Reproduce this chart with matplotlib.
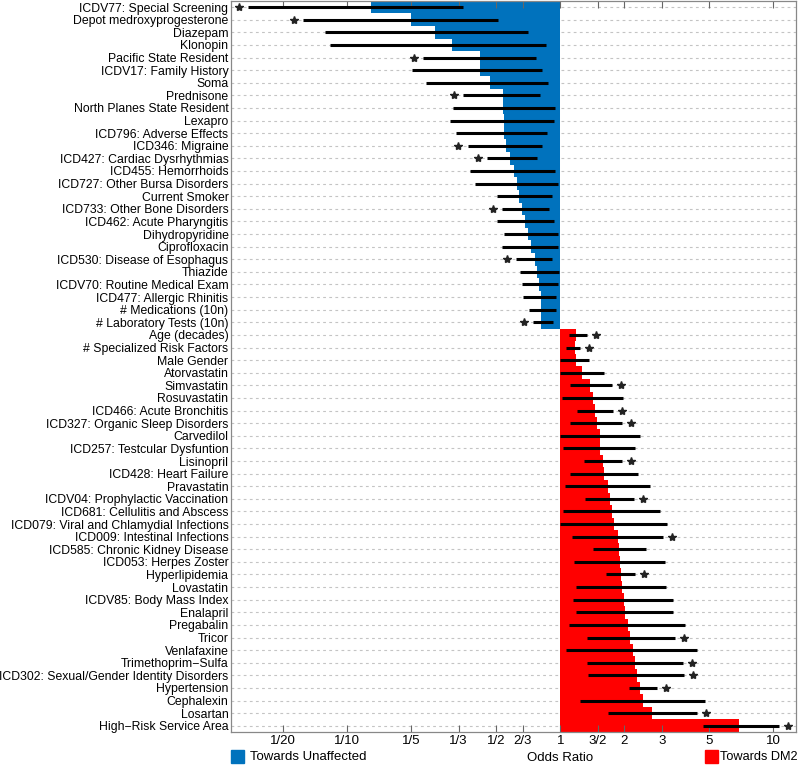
import numpy as np
import matplotlib
matplotlib.use('Agg')
import matplotlib.pyplot as plt
from matplotlib.transforms import offset_copy
from matplotlib.patches import Rectangle

plt.rcParams['font.family'] = ['Liberation Sans', 'DejaVu Sans']

# factores, razon de momios, intervalo de confianza y significancia
labels = [
    'ICDV77: Special Screening', 'Depot medroxyprogesterone', 'Diazepam', 'Klonopin',
    'Pacific State Resident', 'ICDV17: Family History', 'Soma', 'Prednisone',
    'North Planes State Resident', 'Lexapro', 'ICD796: Adverse Effects', 'ICD346: Migraine',
    'ICD427: Cardiac Dysrhythmias', 'ICD455: Hemorrhoids', 'ICD727: Other Bursa Disorders',
    'Current Smoker', 'ICD733: Other Bone Disorders', 'ICD462: Acute Pharyngitis',
    'Dihydropyridine', 'Ciprofloxacin', 'ICD530: Disease of Esophagus', 'Thiazide',
    'ICDV70: Routine Medical Exam', 'ICD477: Allergic Rhinitis', '# Medications (10n)',
    '# Laboratory Tests (10n)',
    'Age (decades)', '# Specialized Risk Factors', 'Male Gender', 'Atorvastatin',
    'Simvastatin', 'Rosuvastatin', 'ICD466: Acute Bronchitis', 'ICD327: Organic Sleep Disorders',
    'Carvedilol', 'ICD257: Testcular Dysfuntion', 'Lisinopril', 'ICD428: Heart Failure',
    'Pravastatin', 'ICDV04: Prophylactic Vaccination', 'ICD681: Cellulitis and Abscess',
    'ICD079: Viral and Chlamydial Infections', 'ICD009: Intestinal Infections',
    'ICD585: Chronic Kidney Disease', 'ICD053: Herpes Zoster', 'Hyperlipidemia', 'Lovastatin',
    'ICDV85: Body Mass Index', 'Enalapril', 'Pregabalin', 'Tricor', 'Venlafaxine',
    'Trimethoprim\u2212Sulfa', 'ICD302: Sexual/Gender Identity Disorders', 'Hypertension',
    'Cephalexin', 'Losartan', 'High\u2212Risk Service Area']

odds = [0.129, 0.199, 0.259, 0.310, 0.418, 0.420, 0.469, 0.538, 0.540, 0.542, 0.546, 0.558,
        0.582, 0.604, 0.626, 0.637, 0.661, 0.685, 0.707, 0.73, 0.763, 0.78, 0.797, 0.814,
        0.814, 0.814,
        1.19, 1.17, 1.19, 1.264, 1.383, 1.418, 1.449, 1.486, 1.53, 1.54, 1.587, 1.61, 1.668,
        1.717, 1.748, 1.798, 1.858, 1.892, 1.913, 1.93, 1.948, 1.983, 2.02, 2.07, 2.13, 2.19,
        2.25, 2.29, 2.37, 2.44, 2.69, 6.92]

ci_low = [0.0342, 0.0617, 0.0788, 0.0832, 0.227, 0.202, 0.235, 0.348, 0.313, 0.302, 0.325,
          0.367, 0.453, 0.378, 0.399, 0.505, 0.532, 0.505, 0.546, 0.533, 0.621, 0.644, 0.661,
          0.668, 0.71, 0.747,
          1.094, 1.067, 1.0, 1.0, 1.106, 1.018, 1.197, 1.114, 1.0, 1.036, 1.30, 1.114, 1.055,
          1.31, 1.03, 1.0, 1.135, 1.424, 1.163, 1.644, 1.189, 1.147, 1.185, 1.102, 1.334, 1.063,
          1.334, 1.349, 2.11, 1.232, 1.668, 4.66]

ci_high = [0.348, 0.508, 0.705, 0.86, 0.77, 0.82, 0.88, 0.805, 0.95, 0.93, 0.87, 0.82,
           0.78, 0.95, 0.98, 0.917, 0.89, 0.937, 0.98, 0.98, 0.917, 0.99, 0.98, 0.957, 0.957,
           0.927,
           1.334, 1.241, 1.358, 1.597, 1.748, 1.97, 1.767, 1.948, 2.357, 2.25, 1.96, 2.33, 2.645,
           2.225, 2.926, 3.17, 3.03, 2.53, 3.11, 2.25, 3.14, 3.40, 3.40, 3.86, 3.46, 4.38, 3.79,
           3.82, 2.86, 4.76, 4.41, 10.7]

signif = [1, 1, 0, 0, 1, 0, 0, 1, 0, 0, 0, 1, 1, 0, 0, 0, 1, 0, 0, 0, 1, 0, 0, 0, 0, 1,
          1, 1, 0, 0, 1, 0, 1, 1, 0, 0, 1, 0, 0, 1, 0, 0, 1, 0, 0, 1, 0, 0, 0, 0, 1, 0,
          1, 1, 1, 0, 1, 1]

tick_vals = [1/20, 1/10, 1/5, 1/3, 1/2, 2/3, 1, 3/2, 2, 3, 5, 10]
tick_labels = ['1/20', '1/10', '1/5', '1/3', '1/2', '2/3', '1', '3/2', '2', '3', '5', '10']

odds = np.array(odds)
ci_low = np.array(ci_low)
ci_high = np.array(ci_high)
signif = np.array(signif, dtype=bool)
y = np.arange(len(labels))

azul = '#0072BD'
rojo = '#FF0000'

fig = plt.figure(figsize=(8, 7.65), dpi=100)
ax = fig.add_axes([0.289, 0.043, 0.706, 0.956])
ax.set_xscale('log')

for yy in y:
    ax.axhline(yy, color='#c4c4c4', lw=0.8, ls=(0, (2.5, 3)), zorder=0)

colores = np.where(odds < 1, azul, rojo)
ax.barh(y, np.abs(odds - 1), left=np.minimum(odds, 1), height=1.0, color=colores,
        linewidth=0, zorder=1)
ax.hlines(y, ci_low, ci_high, color='black', lw=2.2, zorder=2)

neg = signif & (odds < 1)
pos = signif & (odds >= 1)
tr_izq = offset_copy(ax.transData, fig=fig, x=-6.5, y=0, units='points')
tr_der = offset_copy(ax.transData, fig=fig, x=6.5, y=0, units='points')
ax.plot(ci_low[neg], y[neg], '*', color='#222222', ms=6, transform=tr_izq, zorder=3)
ax.plot(ci_high[pos], y[pos], '*', color='#222222', ms=6, transform=tr_der, zorder=3)

ax.set_xlim(0.0285, 12.8)
ax.set_ylim(len(labels) - 0.5, -0.5)
ax.set_yticks(y)
ax.set_yticklabels(labels, fontsize=8.8)
ax.set_xticks(tick_vals)
ax.set_xticklabels(tick_labels, fontsize=9.5)
ax.xaxis.set_minor_locator(matplotlib.ticker.NullLocator())
ax.tick_params(axis='x', direction='in', top=True, length=5, color='#666666', pad=2)
ax.tick_params(axis='y', length=0, pad=2)
for s in ax.spines.values():
    s.set_color('#888888')
    s.set_linewidth(0.9)

# leyenda manual
fig.add_artist(Rectangle((231/800, 1 - 763/765), 13/800, 13/765, transform=fig.transFigure,
                         color=azul))
fig.text(250/800, 1 - 757/765, 'Towards Unaffected', fontsize=9.5, va='center', ha='left')
fig.text(560/800, 1 - 758/765, 'Odds Ratio', fontsize=9.5, va='center', ha='center')
fig.add_artist(Rectangle((705/800, 1 - 763/765), 13/800, 13/765, transform=fig.transFigure,
                         color=rojo))
fig.text(720/800, 1 - 757/765, 'Towards DM2', fontsize=9.2, va='center', ha='left')

plt.savefig('out.png', dpi=100)
